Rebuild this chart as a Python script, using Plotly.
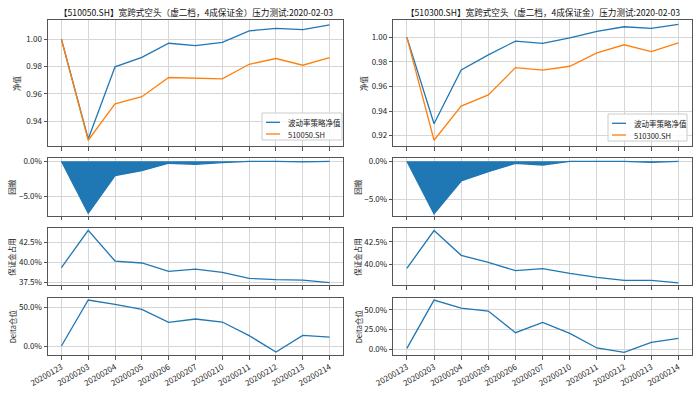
import plotly.graph_objects as go

dates = ["20200123", "20200203", "20200204", "20200205", "20200206", "20200207",
         "20200210", "20200211", "20200212", "20200213", "20200214"]

# 510050.SH panel
nav_50 = [1.000, 0.927, 0.9798, 0.9868, 0.9971, 0.9954, 0.9978, 1.0061, 1.0080, 1.0071, 1.0105]
bench_50 = [1.000, 0.9261, 0.9527, 0.9580, 0.9720, 0.9715, 0.9710, 0.9817, 0.9859, 0.9810, 0.9866]
dd_50 = [0.0, -0.0736, -0.0203, -0.0132, -0.0027, -0.0043, -0.0018, 0.0, 0.0, -0.0009, 0.0]
margin_50 = [0.3938, 0.4404, 0.4020, 0.3996, 0.3892, 0.3920, 0.3880, 0.3804, 0.3788, 0.3783, 0.3750]
delta_50 = [0.0, 0.600, 0.543, 0.478, 0.309, 0.352, 0.313, 0.135, -0.078, 0.139, 0.117]

# 510300.SH panel
nav_300 = [1.000, 0.9296, 0.9735, 0.9858, 0.9970, 0.9951, 0.9997, 1.0049, 1.0087, 1.0074, 1.0106]
bench_300 = [1.000, 0.9162, 0.9440, 0.9531, 0.9754, 0.9733, 0.9765, 0.9874, 0.9940, 0.9885, 0.9956]
dd_300 = [0.0, -0.0695, -0.0261, -0.0137, -0.0027, -0.0049, 0.0, 0.0, 0.0, -0.0013, 0.0]
margin_300 = [0.3960, 0.4375, 0.4103, 0.4026, 0.3934, 0.3956, 0.3904, 0.3860, 0.3827, 0.3827, 0.3800]
delta_300 = [0.008, 0.623, 0.521, 0.483, 0.208, 0.339, 0.199, 0.013, -0.042, 0.085, 0.136]

strategy_name = "波动率策略净值"
codes = ["510050.SH", "510300.SH"]
titles = ["【510050.SH】宽跨式空头（虚二档，4成保证金）压力测试:2020-02-03",
          "【510300.SH】宽跨式空头（虚二档，4成保证金）压力测试:2020-02-03"]
ylabels = ["净值", "回撤", "保证金占用", "Delta仓位"]

BLUE = "#1f77b4"
ORANGE = "#ff7f0e"
FONT = "Noto Sans CJK SC"
W, H = 700, 394

x_domains = [[48 / W, 343 / W], [393.3 / W, 692 / W]]


def ydom(top, bot):
    return [1 - bot / H, 1 - top / H]


y_domains = [ydom(20, 146), ydom(158, 215.7), ydom(228.3, 285), ydom(297.7, 355)]

y_ranges = [
    [[0.9219, 1.0141], [-0.0769, 0.0047], [0.3721, 0.4429], [-0.117, 0.630]],
    [[0.9115, 1.0142], [-0.0721, 0.0044], [0.3776, 0.4400], [-0.076, 0.653]],
]
y_ticks = [
    [[0.94, 0.96, 0.98, 1.00], [-0.05, 0.0], [0.375, 0.40, 0.425], [0.0, 0.5]],
    [[0.92, 0.94, 0.96, 0.98, 1.00], [-0.05, 0.0], [0.40, 0.425], [0.0, 0.25, 0.5]],
]
y_formats = [".2f", ".1%", ".1%", ".1%"]

data = [
    (nav_50, bench_50, dd_50, margin_50, delta_50),
    (nav_300, bench_300, dd_300, margin_300, delta_300),
]

fig = go.Figure()
layout = {}
annotations = []
shapes = []
ylabel_x = [[16, 12, 12, 12], [363, 358, 358, 358]]
# legend box geometry per column (pixels): left, right, top, bottom
legend_boxes = [(262, 342, 113, 140), (608, 687, 114, 141)]

for c in range(2):
    nav, bench, dd, margin, delta = data[c]
    series = [None, dd, margin, delta]
    for r in range(4):
        idx = r * 2 + c + 1
        xa = "x" if idx == 1 else f"x{idx}"
        ya = "y" if idx == 1 else f"y{idx}"
        xkey = "xaxis" if idx == 1 else f"xaxis{idx}"
        ykey = "yaxis" if idx == 1 else f"yaxis{idx}"
        if r == 0:
            fig.add_trace(go.Scatter(x=dates, y=nav, mode="lines", name=strategy_name,
                                     line=dict(color=BLUE, width=1.3), xaxis=xa, yaxis=ya,
                                     showlegend=False))
            fig.add_trace(go.Scatter(x=dates, y=bench, mode="lines", name=codes[c],
                                     line=dict(color=ORANGE, width=1.3), xaxis=xa, yaxis=ya,
                                     showlegend=False))
        elif r == 1:
            fig.add_trace(go.Scatter(x=dates, y=dd, mode="lines", fill="tozeroy",
                                     fillcolor=BLUE, line=dict(color=BLUE, width=1.3),
                                     xaxis=xa, yaxis=ya, showlegend=False))
        else:
            fig.add_trace(go.Scatter(x=dates, y=series[r], mode="lines",
                                     line=dict(color=BLUE, width=1.3),
                                     xaxis=xa, yaxis=ya, showlegend=False))
        layout[xkey] = dict(
            domain=x_domains[c], anchor=ya, type="category",
            categoryorder="array", categoryarray=dates,
            range=[-0.5, len(dates) - 0.5], automargin=False,
            showgrid=True, gridcolor="#d6d6d6", gridwidth=1,
            showline=True, linecolor="#555555", linewidth=1, mirror=True,
            ticks="outside", ticklen=3.5, tickcolor="#555555",
            showticklabels=(r == 3), tickangle=-30,
            tickfont=dict(family=FONT, size=8, color="#222222"),
            zeroline=False,
        )
        layout[ykey] = dict(
            domain=y_domains[r], anchor=xa, automargin=False,
            range=y_ranges[c][r], tickvals=y_ticks[c][r], tickformat=y_formats[r],
            showgrid=True, gridcolor="#d6d6d6", gridwidth=1,
            showline=True, linecolor="#555555", linewidth=1, mirror=True,
            ticks="outside", ticklen=3.5, tickcolor="#555555",
            tickfont=dict(family=FONT, size=8, color="#222222"),
            zeroline=False,
        )
        annotations.append(dict(
            text=ylabels[r], xref="paper", yref="paper",
            x=ylabel_x[c][r] / W, y=sum(y_domains[r]) / 2,
            xanchor="center", yanchor="middle", textangle=-90, showarrow=False,
            font=dict(family=FONT, size=7.5, color="#222222"),
        ))
    annotations.append(dict(
        text=titles[c], xref="paper", yref="paper",
        x=sum(x_domains[c]) / 2, y=1 - 12.3 / H,
        xanchor="center", yanchor="middle", showarrow=False,
        font=dict(family=FONT, size=8.6, color="#111111"),
    ))

    # legend (matplotlib-style, lower right of the top panel)
    lx0, lx1, ly0, ly1 = legend_boxes[c]
    shapes.append(dict(type="rect", xref="paper", yref="paper",
                       x0=lx0 / W, x1=lx1 / W, y0=1 - ly1 / H, y1=1 - ly0 / H,
                       line=dict(color="#cccccc", width=1),
                       fillcolor="rgba(255,255,255,0.85)", layer="above"))
    entries = [(strategy_name, BLUE, ly0 + 9.3), (codes[c], ORANGE, ly0 + 21)]
    for name, col, yy in entries:
        shapes.append(dict(type="line", xref="paper", yref="paper",
                           x0=(lx0 + 4) / W, x1=(lx0 + 18) / W,
                           y0=1 - yy / H, y1=1 - yy / H,
                           line=dict(color=col, width=1.3), layer="above"))
        annotations.append(dict(
            text=name, xref="paper", yref="paper",
            x=(lx0 + 23.5) / W, y=1 - yy / H,
            xanchor="left", yanchor="middle", showarrow=False,
            font=dict(family=FONT, size=7.5, color="#222222"),
        ))

fig.update_layout(
    width=W, height=H,
    margin=dict(l=0, r=0, t=0, b=0, autoexpand=False),
    paper_bgcolor="white", plot_bgcolor="white",
    font=dict(family=FONT, size=8),
    annotations=annotations,
    shapes=shapes,
    showlegend=False,
    **layout,
)

fig.write_html("out.html",
               config={"displayModeBar": False},
               post_script="document.body.style.margin='0';document.body.style.overflow='hidden';")
